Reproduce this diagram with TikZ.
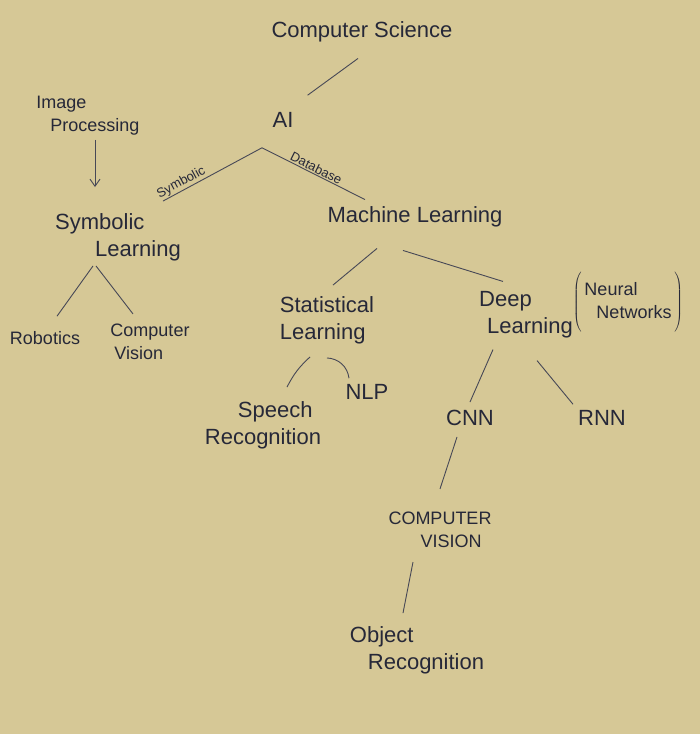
\documentclass[tikz,border=0pt]{standalone}
\usepackage{fontspec}
\setmainfont{Liberation Sans}
\usetikzlibrary{positioning, arrows.meta}
\definecolor{paper}{RGB}{214,200,150}
\definecolor{ink}{RGB}{38,40,56}

\begin{document}
\begin{tikzpicture}[
    x=1pt, y=-1pt,
    lbl/.style={text=ink, align=left, inner sep=2pt, font=\fontsize{22}{27}\selectfont},
    small/.style={lbl, font=\fontsize{18}{23}\selectfont},
    edge/.style={draw=ink!85, line width=0.9pt},
    arr/.style={edge, -{Straight Barb[length=2.5mm, width=3.5mm]}},
    tag/.style={text=ink, font=\fontsize{13}{15}\selectfont, sloped, above, inner sep=1pt}
  ]
    \fill[paper] (0,0) rectangle (700,734);
    \useasboundingbox (0,0) rectangle (700,734);

    % upper part
    \node[lbl] (cs) at (362,32) {Computer Science};
    \node[lbl] (ai) at (283,120) {AI};
    \node[small] (imgp) at (88,116) {Image\\\hspace*{14pt}Processing};
    \node[lbl] (symb) at (118,237) {Symbolic\\\hspace*{40pt}Learning};
    \node[lbl] (ml) at (415,217) {Machine Learning};

    % symbolic branch
    \node[small] (robot) at (45,338) {Robotics};
    \node[small] (cvis) at (150,342) {Computer\\\hspace*{4pt}Vision};

    % machine learning branch
    \node[lbl] (stat) at (327,320) {Statistical\\Learning};
    \node[lbl] (deep) at (526,315) {Deep\\\hspace*{8pt}Learning};
    \node[small, inner sep=0pt] (nn) at (628,302) {$\left(\vcenter{\hbox{\rule{0pt}{62pt}}}\,\vcenter{\hbox{\begin{tabular}{@{}l@{}}Neural\\\hspace*{12pt}Networks\end{tabular}}}\,\right)$};
    \node[lbl] (nlp) at (367,392) {NLP};
    \node[lbl] (speech) at (263,425) {\hspace*{33pt}Speech\\Recognition};
    \node[lbl] (cnn) at (470,418) {CNN};
    \node[lbl] (rnn) at (602,418) {RNN};
    \node[small] (cv2) at (440,530) {COMPUTER\\\hspace*{32pt}VISION};
    \node[lbl] (obj) at (417,650) {Object\\\hspace*{18pt}Recognition};

    % connectors
    \coordinate (fork) at ([shift={(-21,18)}]ai.south);
    \draw[edge] ([shift={(12,-15)}]ai.north east) -- ([shift={(-4,14)}]cs.south);
    \draw[edge] (fork) -- ([shift={(-20,-10)}]symb.north east) node[tag, pos=0.78] {Symbolic};
    \draw[edge] (fork) -- ([shift={(-50,-5)}]ml.north) node[tag, pos=0.5] {Database};
    \draw[arr, shorten <=2pt, shorten >=24pt] ([xshift=7pt]imgp.south) -- ([xshift=7pt]imgp.south |- symb.north);
    \draw[edge] ([shift={(-25,3)}]symb.south) -- ([shift={(12,-13)}]robot.north);
    \draw[edge] ([shift={(-22,3)}]symb.south) -- ([shift={(-17,-8)}]cvis.north);
    \draw[edge] ([shift={(-38,19)}]ml.south) -- ([shift={(6,-9)}]stat.north);
    \draw[edge] ([shift={(-12,21)}]ml.south) -- ([shift={(-23,-8)}]deep.north);
    \draw[edge] ([shift={(-17,11)}]stat.south) to[bend right=10] ([shift={(24,-12)}]speech.north);
    \draw[edge] ([shift={(0,12)}]stat.south) to[bend left=40] ([shift={(-18,-4)}]nlp.north);
    \draw[edge] ([shift={(-33,9)}]deep.south) -- ([shift={(0,-6)}]cnn.north);
    \draw[edge] ([shift={(11,20)}]deep.south) -- ([shift={(-29,-4)}]rnn.north);
    \draw[edge] ([shift={(-13,9)}]cnn.south) -- ([shift={(0,-21)}]cv2.north);
    \draw[edge] ([shift={(-27,12)}]cv2.south) -- ([shift={(-14,-11)}]obj.north);
\end{tikzpicture}
\end{document}
